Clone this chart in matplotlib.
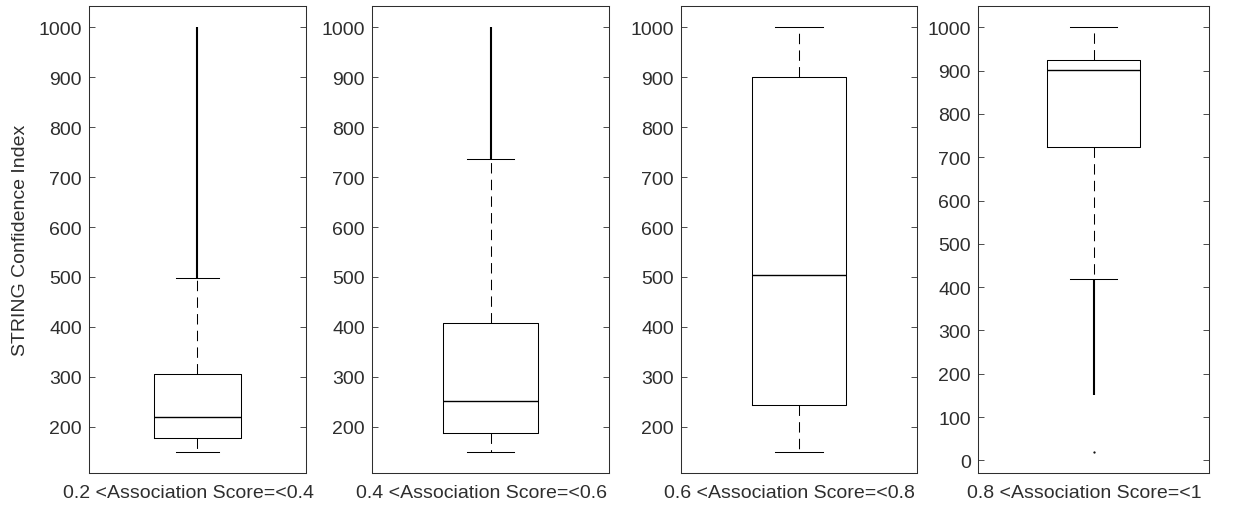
import matplotlib
matplotlib.use("Agg")
import matplotlib.pyplot as plt

plt.rcParams['font.family'] = ['Liberation Sans', 'DejaVu Sans']

# box statistics (STRING confidence index)
labels = ['0.2 <Association Score=<0.4', '0.4 <Association Score=<0.6',
          '0.6 <Association Score=<0.8', '0.8 <Association Score=<1']
q1 = [178, 187, 244, 723]
med = [219, 251, 504, 901]
q3 = [305, 407, 901, 925]
whis_lo = [150, 150, 150, 418]
whis_hi = [498, 737, 1000, 1000]
# outliers are so dense they merge into a solid line: keep their range
out_lo = [498, 737, None, 150]
out_hi = [1000, 1000, None, 418]
out_single = [[], [], [], [20]]
ylims = [(107.5, 1042.5), (107.5, 1042.5), (107.5, 1042.5), (-29, 1049)]
yticks = [range(200, 1001, 100)] * 3 + [range(0, 1001, 100)]

# axes positions in pixels (left, right), figure is 1233 x 510
panels = [(89, 306), (372, 609), (681, 917), (978, 1209)]
W, H = 1233, 510
top, bottom = 7, 474

fig = plt.figure(figsize=(W / 100, H / 100), dpi=100)
axc = '0.18'

for i in range(4):
    l, r = panels[i]
    ax = fig.add_axes([l / W, 1 - bottom / H, (r - l) / W, (bottom - top) / H])
    stats = [dict(med=med[i], q1=q1[i], q3=q3[i], whislo=whis_lo[i], whishi=whis_hi[i], fliers=[])]
    ax.bxp(stats, positions=[1], widths=0.4, capwidths=0.2, showfliers=False,
           boxprops=dict(color='black', linewidth=0.75),
           medianprops=dict(color='black', linewidth=1.0),
           whiskerprops=dict(color='black', linewidth=0.75, linestyle=(0, (10, 6))),
           capprops=dict(color='black', linewidth=0.75))
    if out_lo[i] is not None:
        ax.vlines(1, out_lo[i], out_hi[i], color='black', linewidth=1.5)
    if out_single[i]:
        ax.plot([1] * len(out_single[i]), out_single[i], 'k.', markersize=1.2)
    ax.set_xlim(0.5, 1.5)
    ax.set_ylim(*ylims[i])
    ax.set_yticks(list(yticks[i]))
    ax.set_xticks([])
    ax.tick_params(axis='y', direction='in', length=4, width=0.6, colors=axc,
                   labelsize=14, right=True, pad=5)
    for s in ax.spines.values():
        s.set_color(axc)
        s.set_linewidth(0.75)
    ax.set_xlabel(labels[i], fontsize=14, color=axc, x=0.46, labelpad=8)
    if i == 0:
        ax.set_ylabel('STRING Confidence Index', fontsize=14, color=axc, labelpad=7)

fig.savefig('out.png', dpi=100)
